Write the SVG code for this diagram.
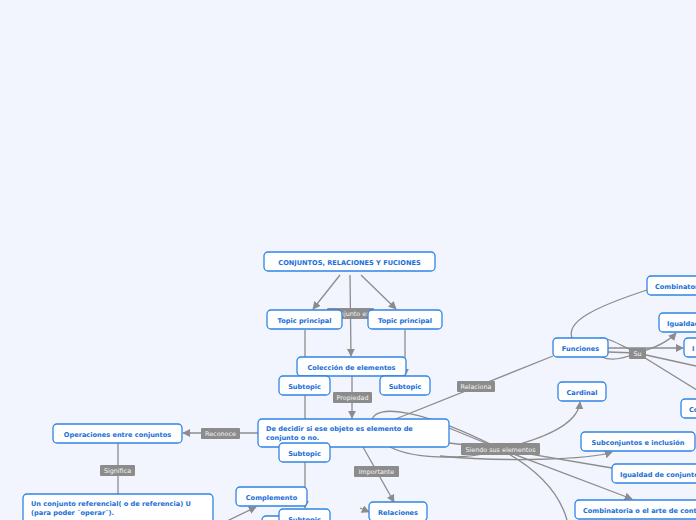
<svg xmlns="http://www.w3.org/2000/svg" width="696" height="520" viewBox="0 0 696 520">
<defs>
<style>
.bg{fill:#f2f5fd}
.node rect{fill:#fff;stroke:#2f84e8;stroke-width:1.3}
.node text{font-family:"DejaVu Sans",Verdana,sans-serif;font-weight:bold;font-size:6.6px;fill:#1a6fd8}
.c path{fill:none;stroke:#8c8c8c;stroke-width:1.3}
.lbl rect{fill:#8c8c8c}
.lbl text{font-family:"DejaVu Sans",Verdana,sans-serif;font-size:6.4px;fill:#f4f4f4;text-anchor:middle}
</style>
<marker id="ah" viewBox="0 0 10 10" refX="9" refY="5" markerWidth="8" markerHeight="8" markerUnits="userSpaceOnUse" orient="auto">
<path d="M0,0 L10,5 L0,10 Z" fill="#8c8c8c"/>
</marker>
</defs>
<rect class="bg" width="696" height="520"/>
<g id="connectors" class="c">
<path d="M340,275 L313,309" marker-end="url(#ah)"/>
<path d="M361,275 L396,309" marker-end="url(#ah)"/>
<path d="M350,275 L351,356" marker-end="url(#ah)"/>
<path d="M305,330 L305,376"/>
<path d="M405,330 L405,376" marker-end="url(#ah)"/>
<path d="M352,376 L352,418" marker-end="url(#ah)"/>
<path d="M305,395 L305,419"/>
<path d="M258,433 L183,433" marker-end="url(#ah)"/>
<path d="M118,443 L118,494"/>
<path d="M363,447 L394,502" marker-end="url(#ah)"/>
<path d="M305,462 L305,508" marker-end="url(#ah)"/>
<path d="M225,522 L256,507" marker-end="url(#ah)"/>
<path d="M360,508 L369,512" marker-end="url(#ah)"/>
<path d="M393,420 L553,356"/>
<path d="M449,428 L500,449"/>
<path d="M372,420 C375,404 420,408 500,449"/>
<path d="M449,443 L500,449"/>
<path d="M390,447 C420,462 480,458 500,449"/>
<path d="M500,449 C540,440 578,425 580,402" marker-end="url(#ah)"/>
<path d="M440,456 C500,462 590,460 612,452" marker-end="url(#ah)"/>
<path d="M500,449 L612,468"/>
<path d="M500,449 L632,499" marker-end="url(#ah)"/>
<path d="M500,449 C540,470 560,495 567,520"/>
<path d="M608,348 L683,348" marker-end="url(#ah)"/>
<path d="M608,352 L637,353"/>
<path d="M600,338 C610,338 620,345 637,353"/>
<path d="M602,357 C612,362 625,358 637,353"/>
<path d="M637,353 C655,348 668,342 676,333" marker-end="url(#ah)"/>
<path d="M637,353 L696,366"/>
<path d="M637,353 L700,392"/>
<path d="M572,338 C566,322 592,308 647,290"/>
</g>
<g id="labels">
<g class="lbl"><rect x="327" y="308" width="47" height="11" rx="1"/><text x="350.5" y="316">Conjunto es</text></g>
<g class="lbl"><rect x="333" y="392" width="39" height="11" rx="1"/><text x="352.5" y="400">Propiedad</text></g>
<g class="lbl"><rect x="201" y="428" width="39" height="11" rx="1"/><text x="220.5" y="436">Reconoce</text></g>
<g class="lbl"><rect x="100" y="465" width="35" height="11" rx="1"/><text x="117.5" y="473">Significa</text></g>
<g class="lbl"><rect x="354" y="466" width="45" height="11" rx="1"/><text x="376.5" y="474">Importante</text></g>
<g class="lbl"><rect x="457" y="381" width="38" height="11" rx="1"/><text x="476" y="389">Relaciona</text></g>
<g class="lbl"><rect x="461" y="443" width="79" height="12" rx="1"/><text x="500.5" y="451.5">Siendo sus elementos</text></g>
<g class="lbl"><rect x="629" y="348" width="17" height="11" rx="1"/><text x="637.5" y="356">Su</text></g>
</g>
<g id="n1" class="node"><rect x="264" y="252" width="171" height="19" rx="4"/><text x="349.5" y="264.5" text-anchor="middle">CONJUNTOS, RELACIONES Y FUCIONES</text></g>
<g id="n2" class="node"><rect x="267" y="310" width="75" height="19" rx="4"/><text x="304.5" y="322.5" text-anchor="middle">Topic principal</text></g>
<g id="n3" class="node"><rect x="368" y="310" width="74" height="19" rx="4"/><text x="405" y="322.5" text-anchor="middle">Topic principal</text></g>
<g id="n4" class="node"><rect x="297" y="357" width="109" height="19" rx="4"/><text x="351.5" y="369.5" text-anchor="middle">Colección de elementos</text></g>
<g id="n5" class="node"><rect x="279" y="376" width="51" height="19" rx="4"/><text x="304.5" y="388.5" text-anchor="middle">Subtopic</text></g>
<g id="n6" class="node"><rect x="380" y="376" width="50" height="19" rx="4"/><text x="405" y="388.5" text-anchor="middle">Subtopic</text></g>
<g id="n7" class="node"><rect x="258" y="419" width="191" height="28" rx="4"/><text x="266" y="431">De decidir si ese objeto es elemento de</text><text x="266" y="440">conjunto o no.</text></g>
<g id="n8" class="node"><rect x="279" y="443" width="51" height="19" rx="4"/><text x="304.5" y="455.5" text-anchor="middle">Subtopic</text></g>
<g id="n9" class="node"><rect x="53" y="424" width="129" height="19" rx="4"/><text x="117.5" y="436.5" text-anchor="middle">Operaciones entre conjuntos</text></g>
<g id="n10" class="node"><rect x="23" y="494" width="190" height="36" rx="4"/><text x="31" y="506">Un conjunto referencial( o de referencia) U</text><text x="31" y="515">(para poder ¨operar¨).</text></g>
<g id="n11" class="node"><rect x="236" y="487" width="71" height="19" rx="4"/><text x="271.5" y="499.5" text-anchor="middle">Complemento</text></g>
<g id="n13" class="node"><rect x="262" y="516" width="60" height="19" rx="4"/></g>
<g id="n12" class="node"><rect x="279" y="509" width="51" height="19" rx="4"/><text x="304.5" y="521.5" text-anchor="middle">Subtopic</text></g>
<g id="n14" class="node"><rect x="369" y="502" width="58" height="19" rx="4"/><text x="398" y="514.5" text-anchor="middle">Relaciones</text></g>
<g id="n15" class="node"><rect x="553" y="338" width="55" height="19" rx="4"/><text x="580.5" y="350.5" text-anchor="middle">Funciones</text></g>
<g id="n16" class="node"><rect x="558" y="382" width="48" height="19" rx="4"/><text x="582" y="394.5" text-anchor="middle">Cardinal</text></g>
<g id="n17" class="node"><rect x="647" y="276" width="90" height="19" rx="4"/><text x="655" y="288.5">Combinatoria</text></g>
<g id="n18" class="node"><rect x="659" y="313" width="90" height="19" rx="4"/><text x="667" y="325.5">Igualdad</text></g>
<g id="n19" class="node"><rect x="684" y="338" width="60" height="19" rx="4"/><text x="692" y="350.5">I</text></g>
<g id="n20" class="node"><rect x="681" y="399" width="60" height="19" rx="4"/><text x="689" y="411.5">Co</text></g>
<g id="n21" class="node"><rect x="581" y="432" width="114" height="19" rx="4"/><text x="638" y="444.5" text-anchor="middle">Subconjuntos e inclusión</text></g>
<g id="n22" class="node"><rect x="612" y="464" width="110" height="19" rx="4"/><text x="620" y="476.5">Igualdad de conjuntos</text></g>
<g id="n23" class="node"><rect x="575" y="500" width="160" height="19" rx="4"/><text x="583" y="512.5">Combinatoria o el arte de contar</text></g>
</svg>
